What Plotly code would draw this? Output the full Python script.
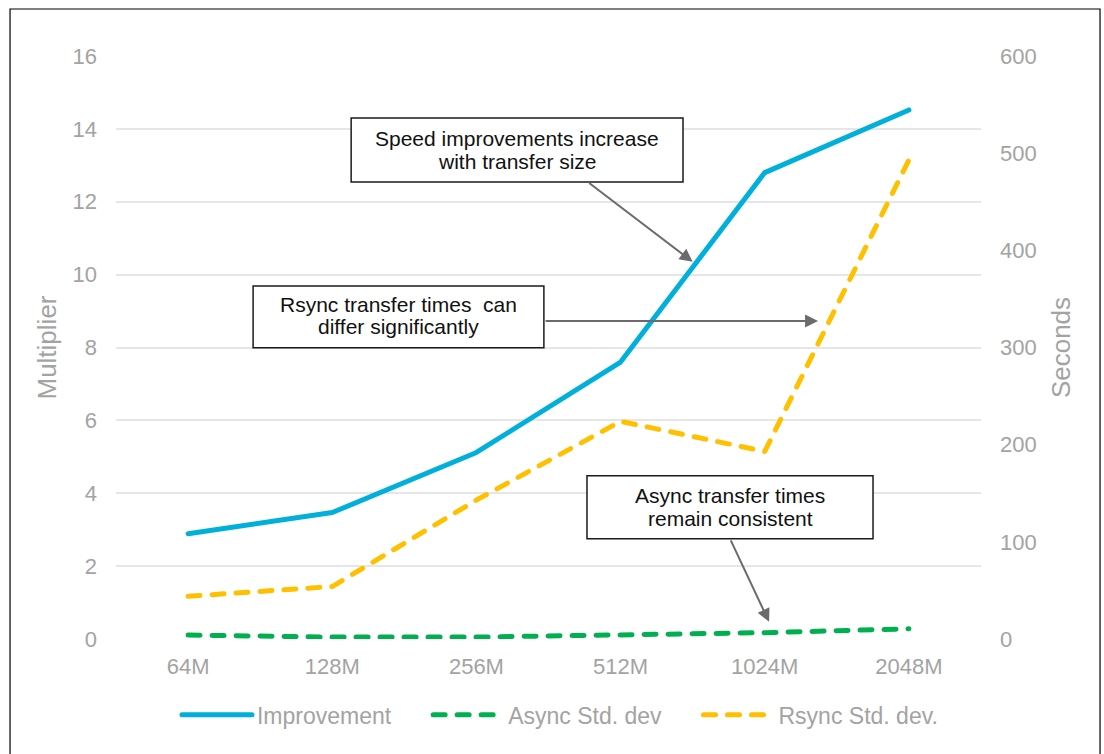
import plotly.graph_objects as go

# Transfer sizes and measured results
sizes = ["64M", "128M", "256M", "512M", "1024M", "2048M"]
improvement = [2.89, 3.47, 5.12, 7.6, 12.8, 14.52]      # speed multiplier
async_std = [4, 2, 2, 4.5, 6.5, 10.5]                   # seconds
rsync_std = [44, 54, 143, 224, 193, 493]                # seconds

FONT = "Liberation Sans, Arial, sans-serif"
GRAY = "#A3A3A3"
PAD = "\u00a0" * 5  # spacing between legend entries

fig = go.Figure()
fig.add_trace(go.Scatter(
    x=sizes, y=improvement, name="Improvement" + PAD, mode="lines",
    line=dict(color="#00B0DA", width=5), yaxis="y"))
fig.add_trace(go.Scatter(
    x=sizes, y=async_std, name="Async Std. dev" + PAD, mode="lines",
    line=dict(color="#00B050", width=5, dash="12px,12px"), yaxis="y2"))
fig.add_trace(go.Scatter(
    x=sizes, y=rsync_std, name="Rsync Std. dev.", mode="lines",
    line=dict(color="#FFC000", width=5, dash="12px,12px"), yaxis="y2"))

# Callout boxes: (x0, x1, y0, y1) in category-index / multiplier units,
# then the text lines with their centre positions
callouts = [
    ((1.131, 3.433, 12.54, 14.30), 2.282,
     [("Speed improvements increase", 13.73), ("with transfer size", 13.10)]),
    ((0.451, 2.468, 7.99, 9.69), 1.457,
     [("Rsync transfer times  can", 9.17), ("differ significantly", 8.57)]),
    ((2.767, 4.751, 2.75, 4.48), 3.76,
     [("Async transfer times", 3.93), ("remain consistent", 3.32)]),
]
for (x0, x1, y0, y1), tx, lines in callouts:
    fig.add_shape(type="rect", xref="x", yref="y", x0=x0, x1=x1, y0=y0, y1=y1,
                  line=dict(color="#1a1a1a", width=1.5), fillcolor="white",
                  layer="above")
    for text, ty in lines:
        fig.add_annotation(x=tx, y=ty, xref="x", yref="y", text=text,
                           showarrow=False,
                           font=dict(family=FONT, size=21, color="#111111"))

# Callout arrows (head position, tail offset in px)
arrows = [(3.5, 10.35, -105, -80), (4.37, 8.73, -274, 0), (4.03, 0.47, -39, -83)]
for hx, hy, ax, ay in arrows:
    fig.add_annotation(
        x=hx, y=hy, xref="x", yref="y", ax=ax, ay=ay, text="",
        showarrow=True, arrowhead=2, arrowsize=1.3, arrowwidth=2,
        arrowcolor="#6B6B6B")

# Outer frame
fig.add_shape(type="rect", xref="paper", yref="paper",
              x0=-0.1225, x1=1.1376, y0=-0.2, y1=1.0806,
              line=dict(color="black", width=1.2), layer="above")

fig.update_layout(
    width=1104, height=754,
    margin=dict(l=116, r=123, t=56, b=115),
    paper_bgcolor="white", plot_bgcolor="white",
    font=dict(family=FONT, color=GRAY, size=22),
    showlegend=True,
    legend=dict(orientation="h", x=0.0705, xanchor="left", y=-0.13,
                yanchor="middle", font=dict(size=23, color=GRAY),
                itemwidth=70, tracegroupgap=0),
    xaxis=dict(type="category", range=[-0.5, 5.5], showgrid=False,
               zeroline=False, showline=False, ticks="",
               ticklabelstandoff=12, tickfont=dict(size=22, color=GRAY)),
    yaxis=dict(range=[0, 16], dtick=2, showgrid=True, gridcolor="#E6E6E6",
               gridwidth=2, zeroline=False, showline=False,
               ticklabelstandoff=18, tickfont=dict(size=22, color=GRAY),
               title=dict(text="Multiplier", standoff=8,
                          font=dict(size=26, color=GRAY))),
    yaxis2=dict(range=[0, 600], dtick=100, overlaying="y", side="right",
                showgrid=False, zeroline=False, showline=False,
                ticklabelstandoff=18, tickfont=dict(size=22, color=GRAY),
                title=dict(text="Seconds", standoff=16,
                           font=dict(size=26, color=GRAY))),
)

# Rounded caps and joins on the series lines
round_caps = (
    "document.querySelectorAll('.js-line').forEach(function(p){"
    "p.style.strokeLinecap='round';p.style.strokeLinejoin='round';});"
)
fig.write_html("out.html", post_script=round_caps)
